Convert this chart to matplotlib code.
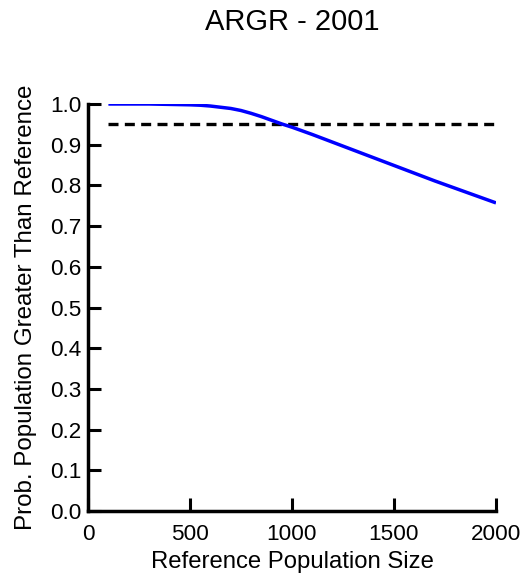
import matplotlib
matplotlib.use("Agg")
import matplotlib.pyplot as plt

# Probability that the population exceeds each reference size
ref_size = [100, 200, 300, 400, 500, 550, 600, 650, 700, 750, 800, 850, 900, 950, 1000,
            1100, 1200, 1300, 1400, 1500, 1600, 1700, 1800, 1900, 2000]
prob_greater = [1.000, 1.000, 1.000, 0.999, 0.998, 0.997, 0.995, 0.992, 0.989, 0.984,
                0.977, 0.969, 0.960, 0.951, 0.943,
                0.925, 0.906, 0.887, 0.868, 0.849, 0.830, 0.811, 0.793, 0.775, 0.757]
threshold = 0.95

title = "ARGR - 2001"
x_label = "Reference Population Size"
y_label = "Prob. Population Greater Than Reference"
x_ticks = [0, 500, 1000, 1500, 2000]
y_ticks = [0.0, 0.1, 0.2, 0.3, 0.4, 0.5, 0.6, 0.7, 0.8, 0.9, 1.0]

plt.rcParams["font.family"] = ["Liberation Sans", "DejaVu Sans"]

fig = plt.figure(figsize=(5.25, 5.77), dpi=100)
ax = fig.add_axes([88 / 525, 66 / 577, 408 / 525, 407 / 577])

ax.plot(ref_size, prob_greater, color="#0000ff", lw=2.5, solid_capstyle="butt",
        solid_joinstyle="round", zorder=3)
ax.plot([ref_size[0], ref_size[-1]], [threshold, threshold], color="black", lw=2.4,
        dashes=(3.0, 1.9), dash_capstyle="butt", zorder=2)

ax.set_xlim(0, 2000)
ax.set_ylim(0, 1.0)
ax.set_xticks(x_ticks)
ax.set_yticks(y_ticks)
ax.set_xticklabels([str(t) for t in x_ticks])
ax.set_yticklabels([f"{t:.1f}" for t in y_ticks])

for side in ("top", "right"):
    ax.spines[side].set_visible(False)
for side in ("left", "bottom"):
    ax.spines[side].set_linewidth(2.5)

ax.tick_params(axis="both", direction="in", length=9.5, width=2.2, labelsize=16.2)
ax.tick_params(axis="y", pad=4.5)
ax.tick_params(axis="x", pad=9)

ax.set_xlabel(x_label, fontsize=17.2)
ax.set_ylabel(y_label, fontsize=17.4)
ax.xaxis.set_label_coords(0.5, -0.098)
ax.yaxis.set_label_coords(-0.125, 0.5)

fig.text(292 / 525, 1 - 22 / 577, title, ha="center", va="center", fontsize=21)

fig.savefig("out.png", dpi=100)
